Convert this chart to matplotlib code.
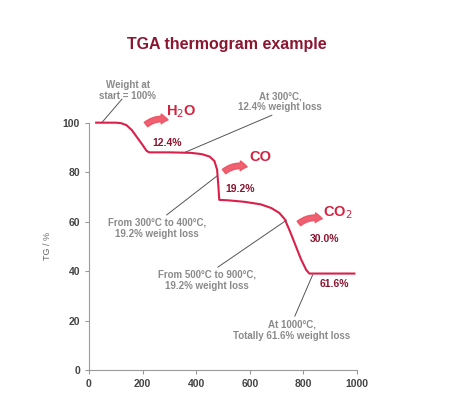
import matplotlib.pyplot as plt
from matplotlib.patches import FancyArrowPatch

plt.rcParams['font.family'] = ['Liberation Sans', 'DejaVu Sans']

# TGA curve
temperature = [27, 100, 120, 140, 160, 180, 200, 215, 225, 300, 380, 420, 450, 468, 478,
               483, 486, 520, 580, 640, 680, 710, 730, 750, 770, 790, 810, 822, 900, 990]
weight = [100, 100, 99.8, 99, 97, 94, 91, 88.6, 88, 88, 87.8, 87.3, 86.3, 84.5, 81,
          74, 68.8, 68.6, 68, 67, 65.5, 63.5, 61, 56, 50.5, 45, 40.5, 39, 39, 39]

x_ticks = [0, 200, 400, 600, 800, 1000]
y_ticks = [0, 20, 40, 60, 80, 100]

gases = ["H$_2$O", "CO", "CO$_2$"]
gas_losses = ["12.4%", "19.2%", "30.0%"]
total_loss = "61.6%"

notes = ["Weight at\nstart = 100%",
         "At 300°C,\n12.4% weight loss",
         "From 300°C to 400°C,\n19.2% weight loss",
         "From 500°C to 900°C,\n19.2% weight loss",
         "At 1000°C,\nTotally 61.6% weight loss"]

curve_red = "#d91f4a"
gas_red = "#d4213f"
dark_red = "#8c1530"
note_grey = "#8a8a8a"
axis_grey = "#9a9a9a"

fig = plt.figure(figsize=(4.68, 3.97), dpi=100)
ax = fig.add_axes([0.190, 0.068, 0.573, 0.623])

ax.plot(temperature, weight, color=curve_red, lw=1.5, clip_on=False, zorder=3)
ax.set_xlim(0, 1000)
ax.set_ylim(0, 100)
ax.set_xticks(x_ticks)
ax.set_yticks(y_ticks)
ax.spines[['top', 'right']].set_visible(False)
for s in ['left', 'bottom']:
    ax.spines[s].set_color(axis_grey)
    ax.spines[s].set_linewidth(0.8)
ax.tick_params(colors=axis_grey, length=3, width=0.8, labelsize=7.5, labelcolor="#444444")
for lab in ax.get_xticklabels() + ax.get_yticklabels():
    lab.set_fontweight('bold')
ax.set_ylabel("TG / %", fontsize=6.5, color="#666666", labelpad=8)

fig.text(0.485, 0.887, "TGA thermogram example", ha='center', va='center',
         fontsize=11.5, fontweight='bold', color=dark_red)

# grey notes with leader lines: (text pos, line start, line end)
note_layout = [((145, 113), (48, 100), (123, 109.5)),
               ((712, 108.5), (358, 88), (682, 103)),
               ((253, 57.2), (477, 78.4), (290, 62.7)),
               ((440, 36.4), (737, 60.6), (481, 41.6)),
               ((757, 16), (834, 38.4), (768, 21.8))]
for txt, (tpos, p0, p1) in zip(notes, note_layout):
    ax.text(*tpos, txt, ha='center', va='center', fontsize=7, fontweight='bold',
            color=note_grey, linespacing=1.15, clip_on=False)
    ax.plot([p0[0], p1[0]], [p0[1], p1[1]], color="#555555", lw=0.7, clip_on=False)

# gas labels, wavy arrows and step losses
gas_layout = [((343, 104.5), (205, 98.5), (305, 100.8), (291, 91.9)),
              ((641, 86), (496, 79.5), (600, 81.8), (563, 73.2)),
              ((928, 63.5), (775, 58.5), (880, 60.8), (880, 53))]
for g, loss, (gpos, a0, a1, lpos) in zip(gases, gas_losses, gas_layout):
    ax.text(*gpos, g, ha='center', va='center', fontsize=10.5, fontweight='bold',
            color=gas_red, clip_on=False)
    arr = FancyArrowPatch(a0, a1, connectionstyle="arc3,rad=-0.3",
                          arrowstyle="simple,head_width=7,head_length=5,tail_width=4",
                          color="#ee5060", alpha=0.9, clip_on=False, zorder=4)
    ax.add_patch(arr)
    ax.text(*lpos, loss, ha='center', va='center', fontsize=7.5, fontweight='bold',
            color=dark_red, clip_on=False)

ax.text(917, 34.8, total_loss, ha='center', va='center', fontsize=7.5,
        fontweight='bold', color=dark_red, clip_on=False)

fig.savefig("out.png", dpi=100)
